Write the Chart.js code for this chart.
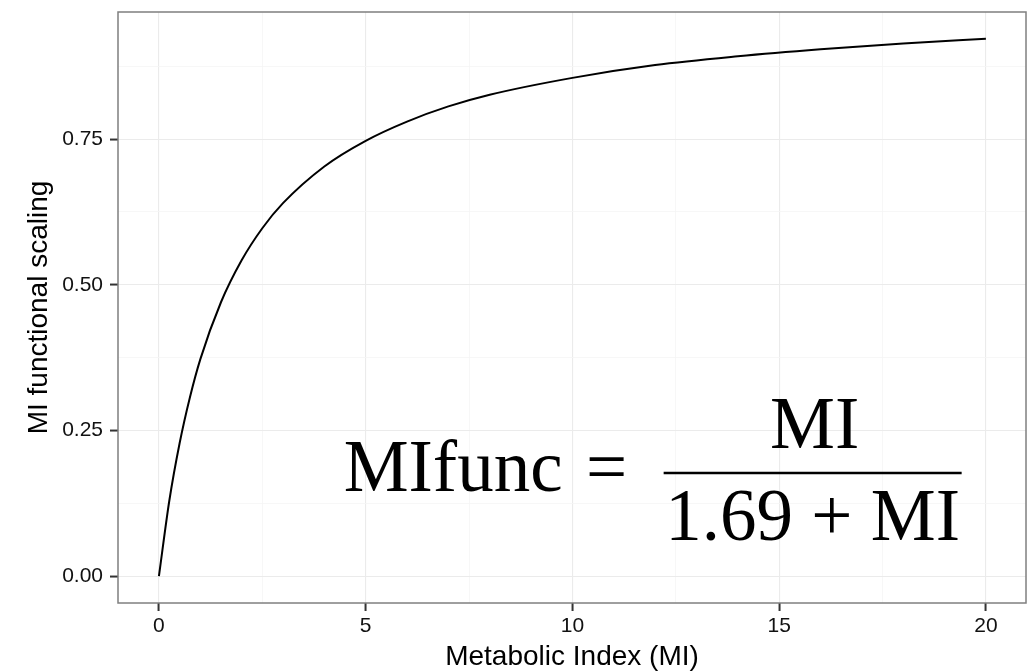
<!DOCTYPE html>
<html lang="en">
<head>
  <meta charset="UTF-8">
  <title>MI functional scaling</title>
  <script src="https://cdn.jsdelivr.net/npm/chart.js"></script>
  <style>
    html, body { margin: 0; padding: 0; background: #fff; }
    #wrap { width: 1029px; height: 672px; }
  </style>
</head>
<body>
  <div id="wrap"><canvas id="miChart" width="1029" height="672"></canvas></div>

  <script>
    // values
    const miValues = [0, 0.25, 0.5, 0.75, 1, 1.5, 2, 2.5, 3, 4, 5, 6, 7, 8, 10, 12, 14, 16, 18, 20];
    const scalingValues = [0, 0.129, 0.228, 0.307, 0.372, 0.470, 0.542, 0.597, 0.640, 0.703, 0.747,
                           0.780, 0.806, 0.826, 0.855, 0.877, 0.892, 0.904, 0.914, 0.922];

    // axis ticks (labelled) and minor grid positions
    const xMajor = [0, 5, 10, 15, 20];
    const xMinor = [2.5, 7.5, 12.5, 17.5];
    const yMajor = [0, 0.25, 0.5, 0.75];
    const yMinor = [0.125, 0.375, 0.625, 0.875];
    const yLabels = ['0.00', '0.25', '0.50', '0.75'];

    const points = miValues.map((x, i) => ({ x: x, y: scalingValues[i] }));

    const isMajor = (list, v) => list.some(m => Math.abs(m - v) < 1e-9);
    const sans = '"Liberation Sans", Arial, sans-serif';

    // panel border + equation
    const panelPlugin = {
      id: 'panel',
      afterDraw(chart) {
        const c = chart.ctx, a = chart.chartArea;
        c.save();
        c.strokeStyle = '#7f7f7f';
        c.lineWidth = 1.5;
        c.strokeRect(a.left, a.top, a.right - a.left, a.bottom - a.top);

        const xs = chart.scales.x, ys = chart.scales.y;
        const cx = xs.getPixelForValue(15.81);
        const ly = ys.getPixelForValue(0.177);
        c.fillStyle = '#000';
        c.strokeStyle = '#000';
        c.font = '73px "Liberation Serif", "Times New Roman", serif';
        c.textBaseline = 'alphabetic';
        c.textAlign = 'center';
        c.fillText('MI', cx + 2, ly - 25);
        c.fillText('1.69 + MI', cx, ly + 67);
        c.lineWidth = 2.5;
        c.beginPath();
        c.moveTo(cx - 149, ly);
        c.lineTo(cx + 149, ly);
        c.stroke();
        c.textAlign = 'left';
        c.fillText('MIfunc', cx - 469, ly + 18);
        c.textAlign = 'center';
        c.fillText('=', cx - 206, ly + 18);
        c.restore();
      }
    };

    const ctx = document.getElementById('miChart').getContext('2d');
    const miChart = new Chart(ctx, {
      type: 'line',
      data: {
        datasets: [{
          label: 'MI functional scaling',
          data: points,
          borderColor: '#000',
          borderWidth: 2,
          pointRadius: 0,
          cubicInterpolationMode: 'monotone',
          fill: false
        }]
      },
      options: {
        responsive: false,
        animation: false,
        layout: { padding: { top: 12, right: 3, left: 0, bottom: 0 } },
        plugins: { legend: { display: false }, tooltip: { enabled: false } },
        scales: {
          x: {
            type: 'linear',
            min: -0.99,
            max: 20.97,
            afterBuildTicks: s => { s.ticks = xMajor.concat(xMinor).sort((a, b) => a - b).map(v => ({ value: v })); },
            afterFit: s => { s.height = 69; s.paddingLeft = 0; s.paddingRight = 0; },
            grid: {
              color: c => isMajor(xMajor, c.tick.value) ? '#ebebeb' : '#f5f5f5',
              lineWidth: c => isMajor(xMajor, c.tick.value) ? 1.1 : 0.8,
              tickColor: c => isMajor(xMajor, c.tick.value) ? '#333' : 'rgba(0,0,0,0)',
              tickWidth: 2,
              tickLength: 8
            },
            border: { display: false },
            ticks: {
              autoSkip: false,
              maxRotation: 0,
              padding: 3,
              color: '#111',
              font: { family: sans, size: 21 },
              callback: v => isMajor(xMajor, v) ? String(v) : ''
            },
            title: {
              display: true,
              text: 'Metabolic Index (MI)',
              color: '#000',
              font: { family: sans, size: 28 },
              padding: { top: 0, bottom: -2 }
            }
          },
          y: {
            type: 'linear',
            min: -0.046,
            max: 0.968,
            afterBuildTicks: s => { s.ticks = yMajor.concat(yMinor).sort((a, b) => a - b).map(v => ({ value: v })); },
            afterFit: s => { s.width = 118; s.paddingTop = 0; s.paddingBottom = 0; },
            grid: {
              color: c => isMajor(yMajor, c.tick.value) ? '#ebebeb' : '#f5f5f5',
              lineWidth: c => isMajor(yMajor, c.tick.value) ? 1.1 : 0.8,
              tickColor: c => isMajor(yMajor, c.tick.value) ? '#333' : 'rgba(0,0,0,0)',
              tickWidth: 2,
              tickLength: 8
            },
            border: { display: false },
            ticks: {
              autoSkip: false,
              padding: 7,
              color: '#111',
              font: { family: sans, size: 21 },
              callback: v => {
                const i = yMajor.findIndex(m => Math.abs(m - v) < 1e-9);
                return i >= 0 ? yLabels[i] : '';
              }
            },
            title: {
              display: true,
              text: 'MI functional scaling',
              color: '#000',
              font: { family: sans, size: 28 },
              padding: { top: 22, bottom: 0 }
            }
          }
        }
      },
      plugins: [panelPlugin]
    });
  </script>
</body>
</html>
